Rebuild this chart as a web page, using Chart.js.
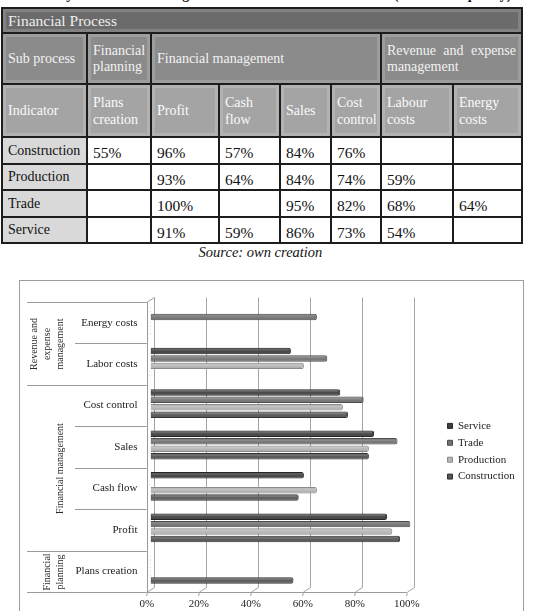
<!DOCTYPE html>
<html lang="en">
<head>
<meta charset="UTF-8">
<title>Financial process indicators by sector</title>
<script src="https://cdn.jsdelivr.net/npm/chart.js"></script>
<style>
  body { margin: 0; width: 545px; height: 611px; overflow: hidden; background: #fff; position: relative;
         font-family: "Liberation Serif", "Times New Roman", serif; color: #111; }
  .caption { position: absolute; left: 0; top: -13px; width: 545px; text-align: center; font-weight: bold;
             font-size: 14px; white-space: nowrap; }
  table { position: absolute; left: 1px; top: 7px; width: 520px; border-collapse: collapse; table-layout: fixed; font-size: 14px; }
  td { border: 2px solid #1d1d1d; padding: 0 5px; vertical-align: middle; overflow: hidden;
       box-shadow: inset 0 0 0 2px transparent, inset 0 0 0 3px rgba(255,255,255,0.16); }
  tr.h1 { height: 25px; }
  tr.h2 { height: 51px; }
  tr.h3 { height: 53px; }
  tr.h1 td { background: #6b6b6b; color: #eee; font-size: 15.5px; line-height: 18px; }
  tr.h2 td { background: #8b8b8b; color: #f2f2f2; line-height: 16px; }
  tr.h3 td { background: #a4a4a4; color: #fafafa; line-height: 17px; }
  td.just { text-align: justify; text-align-last: left; }
  tr.d td { background: #fff; font-size: 15.5px; line-height: 16px; vertical-align: top; padding-top: 7px; box-shadow: none; }
  tr.d td.lab { background: #d9d9d9; font-size: 14px; vertical-align: middle; padding-top: 0; }
  .source { position: absolute; left: 0; top: 244px; width: 521px; text-align: center; font-style: italic; font-size: 14.5px; }
  .frame { position: absolute; left: 19px; top: 280px; width: 505px; height: 360px; box-sizing: border-box; border: 1px solid #9c9c9c; }
  #chart { position: absolute; left: 19px; top: 280px; }
</style>
</head>
<body>
<div class="caption">surveyed SMEs according to their business sector affiliation (relative frequency)</div>
<table id="tbl">
  <colgroup>
    <col style="width:85px"><col style="width:64px"><col style="width:68px"><col style="width:61px">
    <col style="width:51px"><col style="width:50px"><col style="width:72px"><col style="width:69px">
  </colgroup>
  <tr class="h1"><td colspan="8">Financial Process</td></tr>
  <tr class="h2"><td>Sub process</td><td>Financial planning</td><td colspan="4">Financial management</td><td colspan="2" class="just">Revenue and expense management</td></tr>
  <tr class="h3" id="indRow"><td>Indicator</td></tr>
</table>
<div class="source">Source: own creation</div>
<div class="frame"></div>
<canvas id="chart" width="506" height="331"></canvas>
<script>
// chart categories, top to bottom
const categories = ['Energy costs', 'Labor costs', 'Cost control', 'Sales', 'Cash flow', 'Profit', 'Plans creation'];
const groupNames = [['Revenue and', 'expense', 'management'], ['Financial management'], ['Financial', 'planning']];
const groupSizes = [2, 4, 1];

const seriesNames = ['Service', 'Trade', 'Production', 'Construction'];
const service      = [null, 54, 73, 86, 59, 91, null];
const trade        = [64, 68, 82, 95, null, 100, null];
const production   = [null, 59, 74, 84, 64, 93, null];
const construction = [null, null, 76, 84, 57, 96, 55];
const xTicks = [0, 20, 40, 60, 80, 100];

// table columns (left to right) and the chart category each one maps to
const tableIndicators = ['Plans creation', 'Profit', 'Cash flow', 'Sales', 'Cost control', 'Labour costs', 'Energy costs'];
const tableCategory = [6, 5, 4, 3, 2, 1, 0];
const tableSectors = ['Construction', 'Production', 'Trade', 'Service'];

const seriesData = [service, trade, production, construction];
const fills   = ['#3f3f3f', '#727272', '#b6b6b6', '#545454'];
const borders = ['#262626', '#4c4c4c', '#8c8c8c', '#333333'];

// build the table body from the same arrays
const tbl = document.getElementById('tbl');
const indRow = document.getElementById('indRow');
tableIndicators.forEach(t => { const td = document.createElement('td'); td.textContent = t; indRow.appendChild(td); });
tableSectors.forEach(sector => {
  const vals = seriesData[seriesNames.indexOf(sector)];
  const tr = document.createElement('tr');
  tr.className = 'd';
  tr.style.height = (sector === 'Production' || sector === 'Service') ? '26px' : '27px';
  let html = '<td class="lab">' + sector + '</td>';
  tableCategory.forEach(ci => { html += '<td>' + (vals[ci] == null ? '' : vals[ci] + '%') + '</td>'; });
  tr.innerHTML = html;
  tbl.appendChild(tr);
});

// 3d wall offsets relative to the bar plane
const depth = { fx: -3.7, fy: 2, bx: 3.7, by: -2.5 };
const crisp = v => Math.round(v) + 0.5;

const wall3d = {
  id: 'wall3d',
  beforeDatasetsDraw(chart) {
    const { ctx, chartArea: a, scales: { x } } = chart;
    const line = (x1, y1, x2, y2) => { ctx.beginPath(); ctx.moveTo(x1, y1); ctx.lineTo(x2, y2); ctx.stroke(); };
    ctx.save();
    ctx.lineWidth = 1;
    ctx.strokeStyle = '#a4a4a4';
    xTicks.forEach(v => {
      const p = x.getPixelForValue(v);
      const bx = crisp(p + depth.bx), fx = crisp(p + depth.fx);
      line(bx, a.top + depth.by, bx, a.bottom + depth.by);
      line(bx, a.bottom + depth.by, fx, a.bottom + depth.fy);
      line(fx, crisp(a.bottom + depth.fy), fx - 1, a.bottom + depth.fy + 4);
    });
    const p0 = x.getPixelForValue(0);
    ctx.strokeStyle = '#9a9a9a';
    line(crisp(p0 + depth.fx), a.top + depth.fy, crisp(p0 + depth.bx), a.top + depth.by);
    line(crisp(p0 + depth.fx), a.top + depth.fy, crisp(p0 + depth.fx), a.bottom + depth.fy);
    line(p0 + depth.fx, crisp(a.bottom + depth.fy), x.getPixelForValue(100) + depth.fx, crisp(a.bottom + depth.fy));
    ctx.restore();
  }
};

// cylinder-like shading laid over each bar the library placed
const barShade = {
  id: 'barShade',
  afterDatasetsDraw(chart) {
    const { ctx } = chart;
    ctx.save();
    chart.data.datasets.forEach((ds, i) => {
      chart.getDatasetMeta(i).data.forEach(bar => {
        if (bar.skip || isNaN(bar.x)) return;
        const h = bar.height, top = bar.y - h / 2;
        const g = ctx.createLinearGradient(0, top, 0, top + h);
        g.addColorStop(0, 'rgba(0,0,0,0.12)');
        g.addColorStop(0.3, 'rgba(255,255,255,0.22)');
        g.addColorStop(0.55, 'rgba(255,255,255,0.04)');
        g.addColorStop(1, 'rgba(0,0,0,0.25)');
        ctx.fillStyle = g;
        ctx.fillRect(bar.base + 1, top + 1, bar.x - bar.base - 3, h - 2);
      });
    });
    ctx.restore();
  }
};

const sideLabels = {
  id: 'sideLabels',
  afterDraw(chart) {
    const { ctx, scales: { x, y } } = chart;
    const line = (x1, y1, x2, y2) => { ctx.beginPath(); ctx.moveTo(x1, y1); ctx.lineTo(x2, y2); ctx.stroke(); };
    const axisX = x.getPixelForValue(0) + depth.fx;
    const edge = i => crisp(y.getPixelForValue(i - 0.5) + depth.fy);
    const starts = [];
    let s = 0;
    groupSizes.forEach(n => { starts.push(s); s += n; });
    ctx.save();
    ctx.strokeStyle = '#9a9a9a';
    ctx.lineWidth = 1;
    for (let i = 0; i <= categories.length; i++) {
      const groupEdge = i === categories.length || starts.includes(i);
      line(groupEdge ? 8 : 56, edge(i), axisX, edge(i));
    }
    ctx.fillStyle = '#2a2a2a';
    ctx.font = '10px "Liberation Serif", "Times New Roman", serif';
    ctx.textAlign = 'center';
    ctx.textBaseline = 'middle';
    groupNames.forEach((lines, g) => {
      const cy = (edge(starts[g]) + edge(starts[g] + groupSizes[g])) / 2;
      lines.forEach((t, k) => {
        const cx = 41 - (lines.length - 1 - k) * 13;
        ctx.save();
        ctx.translate(cx, cy);
        ctx.rotate(-Math.PI / 2);
        ctx.fillText(t, 0, 0);
        ctx.restore();
      });
    });
    ctx.restore();
  }
};

const legendPlace = {
  id: 'legendPlace',
  afterLayout(chart) {
    const l = chart.legend;
    const pad = l.options.labels.padding;
    const h = l.height;
    l.left = chart.chartArea.right + 37 - pad;
    l.width = 100;
    l.right = l.left + l.width;
    l.top = chart.chartArea.top + 114.5;
    l.bottom = l.top + h;
  }
};

const serif = { family: '"Liberation Serif", "Times New Roman", serif', size: 11 };

new Chart(document.getElementById('chart'), {
  type: 'bar',
  data: {
    labels: categories,
    datasets: seriesNames.map((name, i) => ({
      label: name,
      data: seriesData[i],
      backgroundColor: fills[i],
      borderColor: borders[i],
      borderWidth: 1,
      borderRadius: { topRight: 2, bottomRight: 2 },
      borderSkipped: 'start',
      categoryPercentage: 0.72,
      barPercentage: 0.87
    }))
  },
  options: {
    indexAxis: 'y',
    responsive: false,
    animation: false,
    layout: { padding: { top: 20, right: 54.5, left: 0, bottom: 0 } },
    plugins: {
      legend: {
        position: 'right',
        align: 'start',
        maxWidth: 60,
        labels: { boxWidth: 5, boxHeight: 5, padding: 5.9, font: { ...serif }, color: '#222' }
      },
      tooltip: { enabled: false }
    },
    scales: {
      x: {
        min: 0, max: 100,
        afterFit: s => { s.height = 21; },
        afterBuildTicks: s => { s.ticks = xTicks.map(v => ({ value: v })); },
        ticks: { callback: v => v + '%', font: { ...serif }, color: '#222', padding: 8, labelOffset: -3.7, maxRotation: 0 },
        grid: { display: false, drawTicks: false },
        border: { display: false }
      },
      y: {
        afterFit: s => { s.width = 131.5; },
        ticks: { font: { ...serif }, color: '#222', padding: 13, labelOffset: 2 },
        grid: { display: false, drawTicks: false },
        border: { display: false }
      }
    }
  },
  plugins: [wall3d, barShade, sideLabels, legendPlace]
});
</script>
</body>
</html>
